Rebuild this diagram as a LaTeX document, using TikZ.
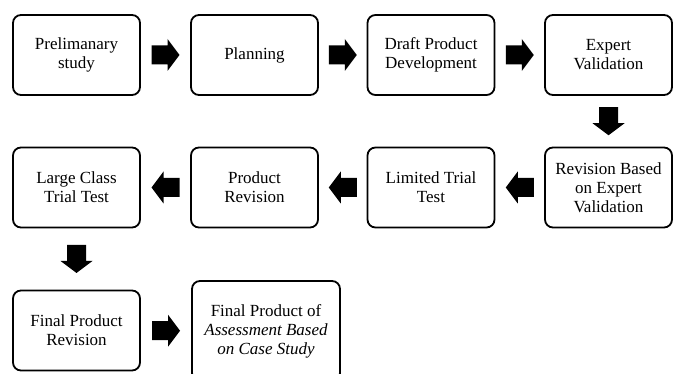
\documentclass[tikz,border=0pt]{standalone}
\usepackage{fontspec}
\setmainfont{Liberation Serif}
\usetikzlibrary{calc}
\begin{document}
\begin{tikzpicture}[x=1pt,y=-1pt,
  stage/.style={draw=black,line width=1.8pt,rounded corners=8pt,fill=white,
    minimum width=127pt,minimum height=80pt,align=center,inner sep=2pt,
    font=\fontsize{17}{19}\selectfont},
  blockarrow/.pic={\fill[black] (-14,-9.5) -- (2,-9.5) -- (2,-16) -- (14,0)
    -- (2,16) -- (2,9.5) -- (-14,9.5) -- cycle;}]
\useasboundingbox (0,0) rectangle (678,374);
\clip (0,0) rectangle (678,374);
% first row, left to right
\node[stage] (s1) at (76.5,55) {Prelimanary\\study};
\node[stage] (s2) at (254.5,55) {Planning};
\node[stage] (s3) at (431,55) {Draft Product\\Development};
\node[stage] (s4) at (608.5,55) {Expert\\Validation};
% second row, right to left
\node[stage] (s5) at (608.5,187.5) {Revision Based\\on Expert\\Validation};
\node[stage] (s6) at (431,187.5) {Limited Trial\\Test};
\node[stage] (s7) at (254.5,187.5) {Product\\Revision};
\node[stage] (s8) at (76.5,187.5) {Large Class\\Trial Test};
% third row
\node[stage] (s9) at (76.5,330.5) {Final Product\\Revision};
\node[stage,minimum width=148pt,minimum height=100pt] (s10) at (266,331)
  {Final Product of\\\textit{Assessment Based}\\\textit{on Case Study}};
% block arrows between the stages
\pic at ($(s1.east)!0.5!(s2.west)$) {blockarrow};
\pic at ($(s2.east)!0.5!(s3.west)$) {blockarrow};
\pic at ($(s3.east)!0.5!(s4.west)$) {blockarrow};
\pic[rotate=-90] at ($(s4.south)!0.5!(s5.north)$) {blockarrow};
\pic[rotate=180] at ($(s5.west)!0.5!(s6.east)$) {blockarrow};
\pic[rotate=180] at ($(s6.west)!0.5!(s7.east)$) {blockarrow};
\pic[rotate=180] at ($(s7.west)!0.5!(s8.east)$) {blockarrow};
\pic[rotate=-90] at ($(s8.south)!0.5!(s9.north)$) {blockarrow};
\pic at ($(s9.east)!0.5!(s10.west)$) {blockarrow};
\end{tikzpicture}
\end{document}
